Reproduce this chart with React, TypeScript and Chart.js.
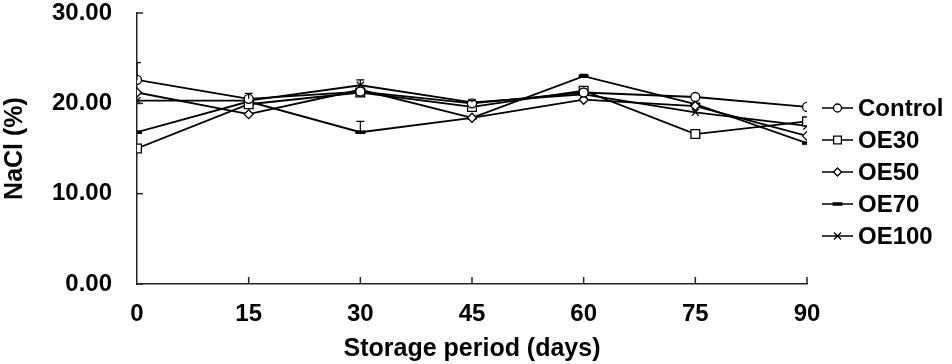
import React, { useEffect, useRef } from "react";
import { Chart, registerables } from "chart.js";

Chart.register(...registerables);

const days = [0, 15, 30, 45, 60, 75, 90];
const seriesNames = ["Control", "OE30", "OE50", "OE70", "OE100"];
const control = [22.6, 20.5, 21.3, 20.0, 21.2, 20.7, 19.6];
const oe30 = [15.0, 19.9, 21.2, 19.6, 21.4, 16.6, 18.0];
const oe50 = [21.2, 18.8, 21.5, 18.4, 20.4, 19.7, 16.4];
const oe70 = [16.8, 20.2, 16.8, 18.4, 23.0, 19.9, 15.6];
const oe100 = [20.3, 20.3, 22.0, 20.1, 21.0, 19.0, 17.5];
const controlErr = [1.9, 0.6, 0, 0, 0, 0, 0];
const oe30Err = [0, 0, 0, 0, 0, 0, 0];
const oe50Err = [0, 0, 0, 0, 0, 0, 0];
const oe70Err = [0, 0, 1.2, 0, 0.2, 0, 0];
const oe100Err = [0, 0, 0.6, 0.2, 0, 0, 0];
const yTicks = [0, 10, 20, 30];
const xTicks = [15, 30, 45, 60, 75, 90];

const FONT = "'Liberation Sans', Arial, sans-serif";
const FS = 24;
const styles = [
  { pointStyle: "circle", radius: 4.5, legendRadius: 4, bw: 1.3 },
  { pointStyle: "rect", radius: 6.2, legendRadius: 5.5, bw: 1.3 },
  { pointStyle: "rectRot", radius: 4.5, legendRadius: 4, bw: 1.3 },
  { pointStyle: "line", radius: 5, legendRadius: 5, bw: 3.5 },
  { pointStyle: "crossRot", radius: 5, legendRadius: 5, bw: 1.3 },
];
const values = [control, oe30, oe50, oe70, oe100];
const errs = [controlErr, oe30Err, oe50Err, oe70Err, oe100Err];

function drawMarker(ctx: CanvasRenderingContext2D, style: string, r: number, x: number, y: number) {
  ctx.beginPath();
  if (style === "circle") {
    ctx.arc(x, y, r, 0, Math.PI * 2);
    ctx.fill();
    ctx.stroke();
  } else if (style === "rect") {
    const s = r * Math.SQRT1_2;
    ctx.rect(x - s, y - s, 2 * s, 2 * s);
    ctx.fill();
    ctx.stroke();
  } else if (style === "rectRot") {
    ctx.moveTo(x, y - r);
    ctx.lineTo(x + r, y);
    ctx.lineTo(x, y + r);
    ctx.lineTo(x - r, y);
    ctx.closePath();
    ctx.fill();
    ctx.stroke();
  } else if (style === "line") {
    ctx.moveTo(x - r, y);
    ctx.lineTo(x + r, y);
    ctx.stroke();
  } else if (style === "crossRot") {
    const s = r * Math.SQRT1_2;
    ctx.moveTo(x - s, y - s);
    ctx.lineTo(x + s, y + s);
    ctx.moveTo(x + s, y - s);
    ctx.lineTo(x - s, y + s);
    ctx.stroke();
  }
}

const extrasPlugin = {
  id: "extras",
  afterDatasetsDraw(chart: any) {
    const ctx = chart.ctx;
    const xs = chart.scales.x;
    const ys = chart.scales.y;
    const ca = chart.chartArea;
    ctx.save();
    ctx.beginPath();
    ctx.rect(ca.left, ca.top - 2, ca.right - ca.left, ca.bottom - ca.top + 2);
    ctx.clip();
    ctx.strokeStyle = "#000";
    ctx.lineWidth = 1.2;
    values.forEach((arr, i) => {
      arr.forEach((v, j) => {
        const e = errs[i][j];
        if (!e) return;
        const px = xs.getPixelForValue(days[j]);
        const p0 = ys.getPixelForValue(v);
        const p1 = ys.getPixelForValue(v + e);
        ctx.beginPath();
        ctx.moveTo(px, p0);
        ctx.lineTo(px, p1);
        ctx.moveTo(px - 4, p1);
        ctx.lineTo(px + 4, p1);
        ctx.stroke();
      });
    });
    ctx.restore();
    ctx.save();
    ctx.strokeStyle = "#222";
    ctx.lineWidth = 1.5;
    yTicks.forEach((t) => {
      const py = ys.getPixelForValue(t);
      ctx.beginPath();
      ctx.moveTo(ca.left, py);
      ctx.lineTo(ca.left + 6, py);
      ctx.stroke();
    });
    xTicks.forEach((t) => {
      const px = xs.getPixelForValue(t);
      ctx.beginPath();
      ctx.moveTo(px, ca.bottom);
      ctx.lineTo(px, ca.bottom - 7);
      ctx.stroke();
    });
    const lx0 = ca.right + 15;
    const lx1 = lx0 + 31;
    const ly0 = 108;
    ctx.font = `bold ${FS}px ${FONT}`;
    ctx.textBaseline = "middle";
    ctx.textAlign = "left";
    seriesNames.forEach((name, i) => {
      const ly = ly0 + i * 32;
      ctx.strokeStyle = "#000";
      ctx.lineWidth = 1.5;
      ctx.beginPath();
      ctx.moveTo(lx0, ly);
      ctx.lineTo(lx1, ly);
      ctx.stroke();
      const st = styles[i];
      ctx.fillStyle = "#fff";
      ctx.lineWidth = st.bw;
      drawMarker(ctx, st.pointStyle, st.legendRadius, (lx0 + lx1) / 2, ly);
      ctx.fillStyle = "#000";
      ctx.fillText(name, lx1 + 5, ly + 1);
    });
    ctx.restore();
  },
};

export default function App() {
  const ref = useRef<HTMLCanvasElement | null>(null);
  useEffect(() => {
    document.body.style.margin = "0";
    const canvas = ref.current!;
    const datasets = values.map((arr, i) => ({
      label: seriesNames[i],
      data: arr.map((v, j) => ({ x: days[j], y: v })),
      borderColor: "#000",
      borderWidth: 1.8,
      backgroundColor: "#fff",
      pointStyle: styles[i].pointStyle,
      pointRadius: styles[i].radius,
      pointBorderWidth: styles[i].bw,
      pointBorderColor: "#000",
      pointBackgroundColor: "#fff",
      tension: 0,
    }));
    const chart = new Chart(canvas, {
      type: "line",
      data: { datasets } as any,
      options: {
        animation: false,
        responsive: false,
        devicePixelRatio: 1,
        layout: { padding: { top: 13, right: 145, left: 0, bottom: 0 } },
        plugins: { legend: { display: false }, tooltip: { enabled: false } },
        scales: {
          x: {
            type: "linear",
            min: 0,
            max: 90,
            afterBuildTicks: (s: any) => {
              s.ticks = days.map((d) => ({ value: d }));
            },
            afterFit: (s: any) => {
              s.height = 80;
              s.paddingLeft = 0;
              s.paddingRight = 0;
            },
            grid: { display: false, drawTicks: false },
            border: { display: true, color: "#222", width: 1.5 },
            ticks: {
              color: "#000",
              font: { family: FONT, size: FS, weight: "bold" },
              padding: 16,
              maxRotation: 0,
              callback: (v: any) => String(v),
            },
            title: {
              display: true,
              text: "Storage period (days)",
              color: "#000",
              font: { family: FONT, size: 25, weight: "bold" },
              padding: { top: 0, bottom: 0 },
            },
          },
          y: {
            min: 0,
            max: 30,
            afterBuildTicks: (s: any) => {
              s.ticks = yTicks.map((t) => ({ value: t }));
            },
            afterFit: (s: any) => {
              s.width = 137;
              s.paddingTop = 0;
              s.paddingBottom = 0;
            },
            grid: { display: false, drawTicks: false },
            border: { display: true, color: "#222", width: 1.5 },
            ticks: {
              color: "#000",
              font: { family: FONT, size: FS, weight: "bold" },
              padding: 25,
              callback: (v: any) => Number(v).toFixed(2),
            },
            title: {
              display: true,
              text: "NaCl (%)",
              color: "#000",
              font: { family: FONT, size: 25, weight: "bold" },
              padding: { top: 0, bottom: 0 },
            },
          },
        },
      },
      plugins: [extrasPlugin],
    } as any);
    return () => chart.destroy();
  }, []);
  return <canvas ref={ref} width={952} height={364} style={{ display: "block" }} />;
}
